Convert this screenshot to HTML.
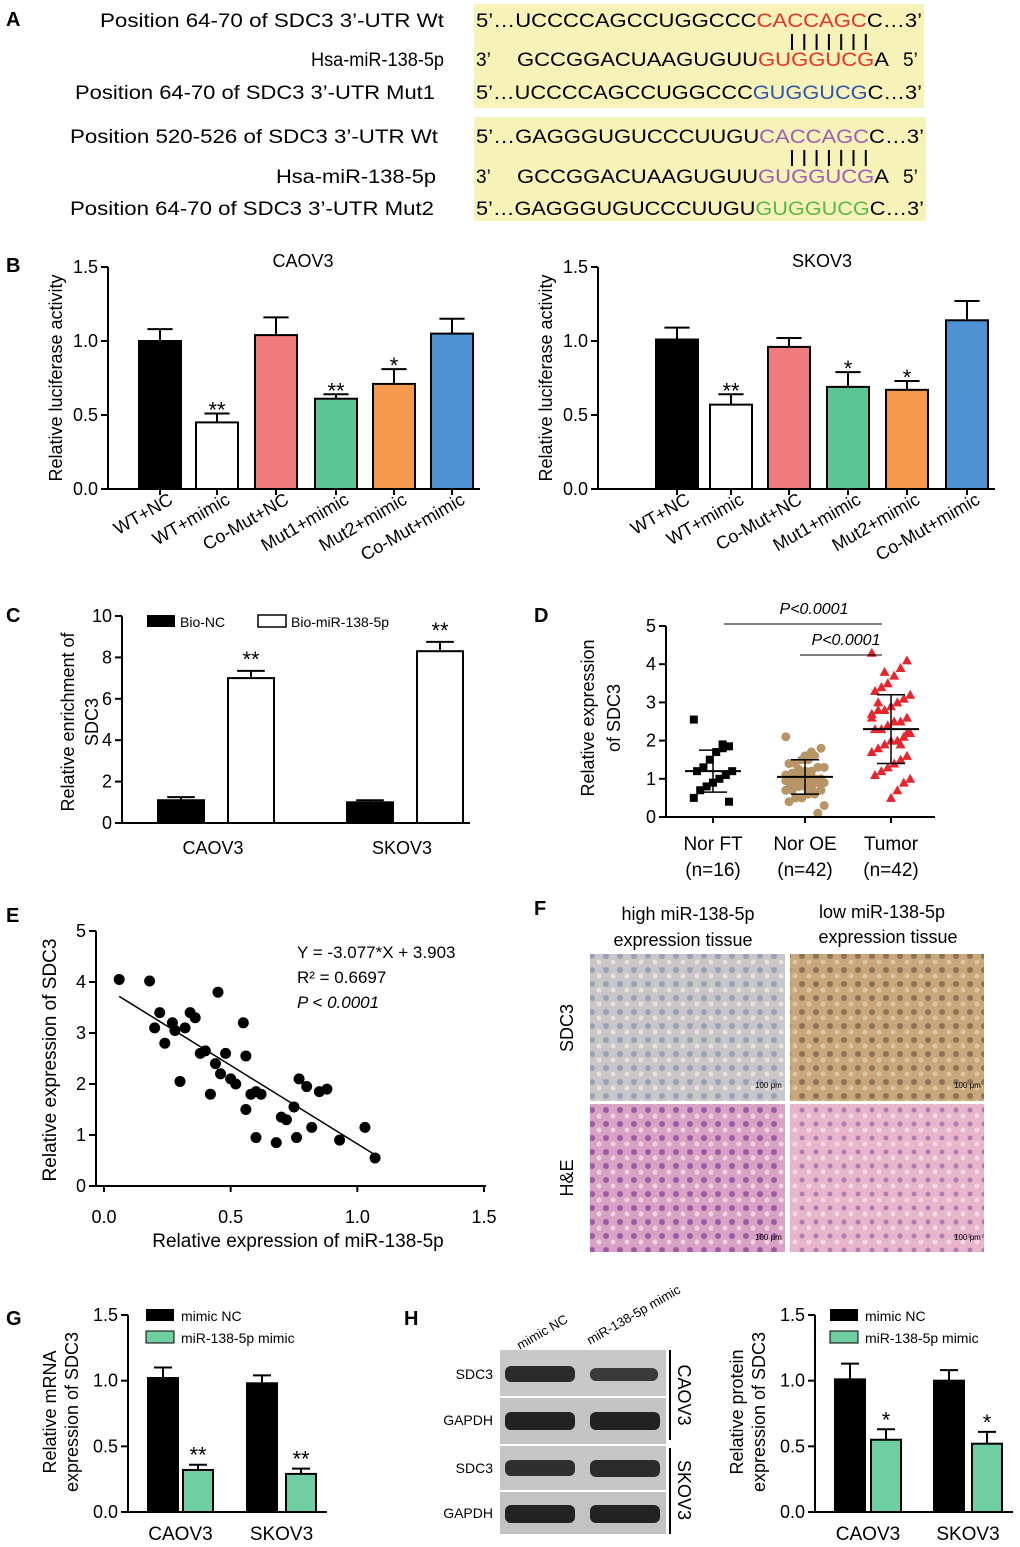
<!DOCTYPE html>
<html><head><meta charset="utf-8"><style>
body{margin:0;background:#fff;width:1020px;height:1547px;overflow:hidden;font-family:"Liberation Sans",Arial,sans-serif}
svg{position:absolute;left:0;top:0}
</style></head><body>
<svg id="fig" width="1020" height="1547" viewBox="0 0 1020 1547" font-family="Liberation Sans, Arial, sans-serif">
<defs>
<pattern id="ihcA" width="14" height="14" patternUnits="userSpaceOnUse"><rect width="14" height="14" fill="#c9c6c8"/><circle cx="4" cy="4" r="3" fill="#9aa0b8"/><circle cx="11" cy="10" r="2.5" fill="#e8e2dc"/></pattern>
<pattern id="ihcB" width="14" height="14" patternUnits="userSpaceOnUse"><rect width="14" height="14" fill="#c8a77a"/><circle cx="4" cy="4" r="3" fill="#8d7258"/><circle cx="11" cy="10" r="2.5" fill="#dcc7a4"/></pattern>
<pattern id="heA" width="14" height="14" patternUnits="userSpaceOnUse"><rect width="14" height="14" fill="#d9a1c4"/><circle cx="4" cy="4" r="3" fill="#9a5aa6"/><circle cx="11" cy="10" r="2.5" fill="#f0d3e3"/></pattern>
<pattern id="heB" width="14" height="14" patternUnits="userSpaceOnUse"><rect width="14" height="14" fill="#e7b6cb"/><circle cx="4" cy="4" r="2.5" fill="#b07ab3"/><circle cx="11" cy="10" r="2.5" fill="#f4d9e5"/></pattern>
</defs>
<g font-size="20" font-weight="bold">
<text x="6" y="26">A</text>
<text x="6" y="272">B</text>
<text x="6" y="622">C</text>
<text x="534" y="622">D</text>
<text x="6" y="922">E</text>
<text x="534" y="915">F</text>
<text x="6" y="1325">G</text>
<text x="404" y="1325">H</text>
</g>
<!-- Panel A -->
<g font-size="19">
<rect x="474" y="4" width="450" height="104" fill="#f7f2b7"/>
<rect x="474" y="117" width="452" height="104" fill="#f7f2b7"/>
<text x="100" y="27" textLength="344" lengthAdjust="spacingAndGlyphs">Position 64-70 of SDC3 3’-UTR  Wt</text>
<text x="311" y="66" textLength="133" lengthAdjust="spacingAndGlyphs">Hsa-miR-138-5p</text>
<text x="75" y="99" textLength="360" lengthAdjust="spacingAndGlyphs">Position 64-70 of SDC3 3’-UTR  Mut1</text>
<text x="70" y="143" textLength="368" lengthAdjust="spacingAndGlyphs">Position 520-526 of SDC3 3’-UTR  Wt</text>
<text x="276" y="183" textLength="160" lengthAdjust="spacingAndGlyphs">Hsa-miR-138-5p</text>
<text x="70" y="215" textLength="364" lengthAdjust="spacingAndGlyphs">Position 64-70 of SDC3 3’-UTR  Mut2</text>
<text x="476" y="27" textLength="446" lengthAdjust="spacingAndGlyphs">5’…UCCCCAGCCUGGCCC<tspan fill="#e8302c">CACCAGC</tspan>C…3’</text>
<text x="476" y="66">3’</text><text x="517" y="66" textLength="372" lengthAdjust="spacingAndGlyphs">GCCGGACUAAGUGUU<tspan fill="#e8302c">GUGGUCG</tspan>A</text><text x="903" y="66">5’</text>
<text x="476" y="99" textLength="446" lengthAdjust="spacingAndGlyphs">5’…UCCCCAGCCUGGCCC<tspan fill="#2f55b0">GUGGUCG</tspan>C…3’</text>
<text x="476" y="143" textLength="448" lengthAdjust="spacingAndGlyphs">5’…GAGGGUGUCCCUUGU<tspan fill="#a05cb0">CACCAGC</tspan>C…3’</text>
<text x="476" y="183">3’</text><text x="517" y="183" textLength="372" lengthAdjust="spacingAndGlyphs">GCCGGACUAAGUGUU<tspan fill="#a05cb0">GUGGUCG</tspan>A</text><text x="903" y="183">5’</text>
<text x="476" y="215" textLength="448" lengthAdjust="spacingAndGlyphs">5’…GAGGGUGUCCCUUGU<tspan fill="#5ab94a">GUGGUCG</tspan>C…3’</text>
<g id="pairs1"></g><g id="pairs2"></g>
</g>
<g id="charts"></g>
<!-- Panel F images -->
<g>
<text x="688" y="920" font-size="18" text-anchor="middle">high miR-138-5p</text>
<text x="683" y="946" font-size="18" text-anchor="middle">expression tissue</text>
<text x="882" y="918" font-size="18" text-anchor="middle">low miR-138-5p</text>
<text x="888" y="943" font-size="18" text-anchor="middle">expression tissue</text>
<text transform="translate(573,1028) rotate(-90)" font-size="18" text-anchor="middle">SDC3</text>
<text transform="translate(573,1178) rotate(-90)" font-size="18" text-anchor="middle">H&amp;E</text>
<rect x="590" y="954" width="195" height="147" fill="url(#ihcA)"/>
<rect x="790" y="954" width="194" height="147" fill="url(#ihcB)"/>
<rect x="590" y="1104" width="195" height="148" fill="url(#heA)"/>
<rect x="790" y="1104" width="194" height="148" fill="url(#heB)"/>
<g font-size="8"><text x="755" y="1088">100 μm</text><text x="954" y="1088">100 μm</text><text x="755" y="1240">100 μm</text><text x="954" y="1240">100 μm</text></g>
</g>
<!-- Panel H blots -->
<g>
<text transform="translate(520,1350) rotate(-30)" font-size="13">mimic NC</text>
<text transform="translate(590,1345) rotate(-30)" font-size="13">miR-138-5p mimic</text>
<rect x="500" y="1350" width="166" height="46" fill="#c8c8c8"/>
<rect x="500" y="1398" width="166" height="46" fill="#c4c4c4"/>
<rect x="500" y="1446" width="166" height="44" fill="#c6c6c6"/>
<rect x="500" y="1492" width="166" height="42" fill="#c2c2c2"/>
<rect x="505" y="1366" width="70" height="16" rx="6" fill="#2a2a2a"/><rect x="590" y="1368" width="68" height="13" rx="6" fill="#3a3a3a"/>
<rect x="505" y="1412" width="70" height="18" rx="6" fill="#222"/><rect x="590" y="1412" width="70" height="18" rx="6" fill="#222"/>
<rect x="505" y="1460" width="70" height="16" rx="6" fill="#2e2e2e"/><rect x="590" y="1460" width="70" height="17" rx="6" fill="#2a2a2a"/>
<rect x="505" y="1505" width="70" height="18" rx="6" fill="#222"/><rect x="590" y="1505" width="70" height="18" rx="6" fill="#222"/>
<g font-size="14" text-anchor="end"><text x="493" y="1379">SDC3</text><text x="493" y="1425">GAPDH</text><text x="493" y="1473">SDC3</text><text x="493" y="1518">GAPDH</text></g>
<line x1="670" y1="1350" x2="670" y2="1440" stroke="#000" stroke-width="2"/>
<line x1="670" y1="1448" x2="670" y2="1534" stroke="#000" stroke-width="2"/>
<text transform="translate(678,1395) rotate(90)" font-size="18" text-anchor="middle">CAOV3</text>
<text transform="translate(678,1490) rotate(90)" font-size="18" text-anchor="middle">SKOV3</text>
</g>
</svg>
<script>
const NS='http://www.w3.org/2000/svg';
// ---- data ----
const bCats=['WT+NC','WT+mimic','Co-Mut+NC','Mut1+mimic','Mut2+mimic','Co-Mut+mimic'];
const bCaovVals=[1.0,0.45,1.04,0.61,0.71,1.05];
const bCaovErr=[0.08,0.06,0.12,0.03,0.1,0.1];
const bCaovSig=['','**','','**','*',''];
const bSkovVals=[1.01,0.57,0.96,0.69,0.67,1.14];
const bSkovErr=[0.08,0.07,0.06,0.1,0.06,0.13];
const bSkovSig=['','**','','*','*',''];
const bTicks=['0.0','0.5','1.0','1.5'];
const cCats=['CAOV3','SKOV3'];
const cNC=[1.1,1.0];const cNCerr=[0.15,0.1];
const cMiR=[7.0,8.3];const cMiRerr=[0.35,0.45];
const cTicks=[0,2,4,6,8,10];
const dCats=['Nor FT','Nor OE','Tumor'];
const dN=['(n=16)','(n=42)','(n=42)'];
const dFT=[2.55,1.85,1.8,1.7,1.5,1.3,1.2,1.2,1.1,1.0,0.9,0.8,0.7,0.5,0.4,1.9];
const dOE=[2.1,1.8,1.6,1.5,1.5,1.4,1.4,1.3,1.3,1.2,1.2,1.1,1.1,1.1,1.0,1.0,1.0,1.0,0.9,0.9,0.9,0.9,0.8,0.8,0.8,0.7,0.7,0.7,0.6,0.6,0.5,0.5,0.4,0.3,0.1,1.7,1.6,1.25,1.15,0.95,0.85,0.65];
const dTu=[4.3,4.1,3.9,3.7,3.5,3.4,3.3,3.2,3.1,3.0,2.9,2.8,2.8,2.7,2.6,2.5,2.5,2.4,2.3,2.3,2.2,2.1,2.0,2.0,1.9,1.8,1.7,1.6,1.5,1.4,1.3,1.2,1.1,1.0,0.9,0.7,0.5,3.8,3.0,2.6,2.2,1.9];
const dMean=[1.2,1.05,2.3];const dSD=[0.55,0.45,0.9];
const dTicks=[0,1,2,3,4,5];
const eX=[0.06,0.18,0.2,0.22,0.24,0.27,0.28,0.3,0.32,0.34,0.36,0.38,0.4,0.42,0.44,0.45,0.46,0.48,0.5,0.52,0.55,0.56,0.56,0.6,0.6,0.62,0.68,0.72,0.75,0.76,0.77,0.8,0.82,0.85,0.88,0.93,1.03,1.07,0.58,0.7];
const eY=[4.05,4.02,3.1,3.4,2.8,3.2,3.05,2.05,3.1,3.4,3.3,2.6,2.65,1.8,2.4,3.8,2.2,2.6,2.1,2.0,3.2,1.5,2.55,0.95,1.85,1.8,0.85,1.3,1.55,0.95,2.1,1.95,1.15,1.85,1.9,0.9,1.15,0.55,1.8,1.35];
const eSlope=-3.077, eInt=3.903;
const eXT=['0.0','0.5','1.0','1.5'];const eYT=[0,1,2,3,4,5];
const gCats=['CAOV3','SKOV3'];
const gNC=[1.02,0.98];const gNCerr=[0.08,0.06];
const gMi=[0.32,0.29];const gMierr=[0.04,0.04];const gSig=['**','**'];
const hNC=[1.01,1.0];const hNCerr=[0.12,0.08];
const hMi=[0.55,0.52];const hMierr=[0.08,0.09];const hSig=['*','*'];
// ---- helpers ----
const root=document.getElementById('charts');
function el(tag,attrs,parent,txt){const e=document.createElementNS(NS,tag);for(const k in attrs)e.setAttribute(k,attrs[k]);if(txt!==undefined)e.textContent=txt;(parent||root).appendChild(e);return e;}
function group(name){const g=el('g',{});


return g;}
function yAxis(g,x,y0,y1,vals,max,fs,fmt){
 el('line',{x1:x,y1:y0,x2:x,y2:y1,stroke:'#000','stroke-width':2},g);
 vals.forEach(v=>{const n=parseFloat(v);const y=y0-(y0-y1)*n/max;
 el('line',{x1:x-7,y1:y,x2:x,y2:y,stroke:'#000','stroke-width':2},g);
 const t=el('text',{x:x-10,y:y+6,'font-size':fs,'text-anchor':'end'},g,fmt?fmt(v):v);
 
 });
}
function vtext(g,x,y,s,fs){el('text',{transform:`translate(${x},${y}) rotate(-90)`,'font-size':fs,'text-anchor':'middle'},g,s);}
function bar(g,cx,w,val,err,y0,scale,fill,name){
 const top=y0-val*scale,et=y0-(val+err)*scale;
 el('line',{x1:cx,y1:top,x2:cx,y2:et,stroke:'#000','stroke-width':2},g);
 el('line',{x1:cx-w*0.3,y1:et,x2:cx+w*0.3,y2:et,stroke:'#000','stroke-width':2},g);
 const r=el('rect',{x:cx-w/2,y:top,width:w,height:val*scale,fill:fill,stroke:'#000','stroke-width':2},g);
 
 
 return et;
}
// ---- Panel B ----
const bColors=['#000','#fff','#f07b7e','#5cc495','#f59a4d','#4f92d3'];
function panelB(name,ax,centers,vals,errs,sigs,title,tx){
 const g=group(name);const y0=489,y1=267,sc=(y0-y1)/1.5;
 el('text',{x:tx,y:267,'font-size':18,'text-anchor':'middle'},g,title);
 vals.forEach((v,i)=>{const et=bar(g,centers[i],42,v,errs[i],y0,sc,bColors[i],'bar-'+bCats[i]);
  if(sigs[i])el('text',{x:centers[i],y:et+12-8,'font-size':22,'text-anchor':'middle'},g,sigs[i]);
  el('text',{transform:`translate(${centers[i]+14},${503}) rotate(-30)`,'font-size':18,'text-anchor':'end'},g,bCats[i]);});
 el('line',{x1:ax,y1:y0,x2:centers[5]+28,y2:y0,stroke:'#000','stroke-width':2},g);
 centers.forEach(c=>el('line',{x1:c,y1:y0,x2:c,y2:y0+6,stroke:'#000','stroke-width':2},g));
 yAxis(g,ax,y0,y1,bTicks,1.5,18);
 vtext(g,ax-46,378,'Relative luciferase activity',18);
}
panelB('chart-b-caov3',108,[160,217,276,336,394,452],bCaovVals,bCaovErr,bCaovSig,'CAOV3',303);
panelB('chart-b-skov3',598,[677,731,789,848,907,967],bSkovVals,bSkovErr,bSkovSig,'SKOV3',822);
// ---- Panel C ----
(function(){const g=group('chart-c');const y0=823,y1=616,sc=(y0-y1)/10;
 const cx=[213,402];
 cx.forEach((c,i)=>{bar(g,c-32,46,cNC[i],cNCerr[i],y0,sc,'#000','bar-bio-nc-'+cCats[i]);
  const et=bar(g,c+38,46,cMiR[i],cMiRerr[i],y0,sc,'#fff','bar-bio-mir-'+cCats[i]);
  el('text',{x:c+38,y:et-4,'font-size':22,'text-anchor':'middle'},g,'**');
  el('text',{x:c,y:854,'font-size':18,'text-anchor':'middle'},g,cCats[i]);});
 el('line',{x1:122,y1:y0,x2:470,y2:y0,stroke:'#000','stroke-width':2},g);
 yAxis(g,122,y0,y1,cTicks.map(String),10,18);
 vtext(g,74,722,'Relative enrichment of',18);vtext(g,98,722,'SDC3',18);
 el('rect',{x:147,y:615,width:28,height:12,fill:'#000'},g);el('text',{x:180,y:627,'font-size':14},g,'Bio-NC');
 el('rect',{x:258,y:615,width:28,height:12,fill:'#fff',stroke:'#000','stroke-width':1.5},g);el('text',{x:291,y:627,'font-size':14},g,'Bio-miR-138-5p');
})();
// ---- Panel D ----
(function(){const g=group('chart-d');const y0=817,y1=626,sc=(y0-y1)/5;const cx=[713,805,891];
 const sets=[dFT,dOE,dTu];
 sets.forEach((s,i)=>{s.forEach((v,j)=>{const off=((j*37)%13-6)*3.2;const x=cx[i]+off,y=y0-v*sc;
  let p;
  if(i===0)p=el('rect',{x:x-4,y:y-4,width:8,height:8,fill:'#000'},g);
  else if(i===1)p=el('circle',{cx:x,cy:y,r:4.5,fill:'#b89566'},g);
  else p=el('path',{d:`M${x},${y-5}L${x+5},${y+4}L${x-5},${y+4}Z`,fill:'#e8242c'},g);
  
  });
  const m=y0-dMean[i]*sc,hi=y0-(dMean[i]+dSD[i])*sc,lo=y0-(dMean[i]-dSD[i])*sc;
  el('line',{x1:cx[i]-28,y1:m,x2:cx[i]+28,y2:m,stroke:'#000','stroke-width':2},g);
  el('line',{x1:cx[i],y1:hi,x2:cx[i],y2:lo,stroke:'#000','stroke-width':1.5},g);
  el('line',{x1:cx[i]-14,y1:hi,x2:cx[i]+14,y2:hi,stroke:'#000','stroke-width':1.5},g);
  el('line',{x1:cx[i]-14,y1:lo,x2:cx[i]+14,y2:lo,stroke:'#000','stroke-width':1.5},g);
  el('text',{x:cx[i],y:850,'font-size':19,'text-anchor':'middle'},g,dCats[i]);
  el('text',{x:cx[i],y:876,'font-size':19,'text-anchor':'middle'},g,dN[i]);});
 el('line',{x1:666,y1:y0,x2:935,y2:y0,stroke:'#000','stroke-width':2},g);
 cx.forEach(c=>el('line',{x1:c,y1:y0,x2:c,y2:y0+6,stroke:'#000','stroke-width':2},g));
 yAxis(g,666,y0,y1,dTicks.map(String),5,18);
 vtext(g,594,718,'Relative expression',18);vtext(g,620,718,'of SDC3',18);
 el('line',{x1:724,y1:624,x2:882,y2:624,stroke:'#000','stroke-width':1},g);
 el('line',{x1:800,y1:655,x2:882,y2:655,stroke:'#000','stroke-width':1},g);
 el('text',{x:814,y:614,'font-size':16,'font-style':'italic','text-anchor':'middle'},g,'P<0.0001');
 el('text',{x:846,y:645,'font-size':16,'font-style':'italic','text-anchor':'middle'},g,'P<0.0001');
})();
// ---- Panel E ----
(function(){const g=group('chart-e');const x0=104,sx=(484-104)/1.5,y0=1186,sy=(1186-931)/5;
 eX.forEach((v,i)=>{const c=el('circle',{cx:x0+v*sx,cy:y0-eY[i]*sy,r:5.5,fill:'#000'},g);
  
  });
 const xa=0.06,xb=1.07;
 el('line',{x1:x0+xa*sx,y1:y0-(eInt+eSlope*xa)*sy,x2:x0+xb*sx,y2:y0-(eInt+eSlope*xb)*sy,stroke:'#000','stroke-width':1.5},g);
 el('line',{x1:96,y1:y0,x2:486,y2:y0,stroke:'#000','stroke-width':2},g);
 eXT.forEach(t=>{const x=x0+parseFloat(t)*sx;el('line',{x1:x,y1:y0,x2:x,y2:y0+6,stroke:'#000','stroke-width':2},g);
  el('text',{x:x,y:1223,'font-size':18,'text-anchor':'middle'},g,t);});
 yAxis(g,96,y0,931,eYT.map(String),5,18);
 el('text',{x:298,y:1247,'font-size':19,'text-anchor':'middle'},g,'Relative expression of miR-138-5p');
 vtext(g,56,1060,'Relative expression of SDC3',19);
 el('text',{x:297,y:958,'font-size':17},g,'Y = -3.077*X + 3.903');
 el('text',{x:297,y:983,'font-size':17},g,'R² = 0.6697');
 el('text',{x:297,y:1008,'font-size':17,'font-style':'italic'},g,'P < 0.0001');
})();
// ---- Panel G / H bars ----
function grouped(name,ax,cent,nc,ncE,mi,miE,sig,y1,yl1,yl2,legX){
 const g=group(name);const y0=1512,sc=(y0-y1)/1.5;
 cent.forEach((c,i)=>{bar(g,c[0],30,nc[i],ncE[i],y0,sc,'#000','bar-mimic-nc-'+gCats[i]);
  const et=bar(g,c[1],30,mi[i],miE[i],y0,sc,'#6fcfa3','bar-mir-mimic-'+gCats[i]);
  el('text',{x:c[1],y:et-2,'font-size':22,'text-anchor':'middle'},g,sig[i]);
  el('text',{x:(c[0]+c[1])/2,y:1540,'font-size':19,'text-anchor':'middle'},g,gCats[i]);});
 el('line',{x1:ax,y1:y0,x2:cent[1][1]+26,y2:y0,stroke:'#000','stroke-width':2},g);
 yAxis(g,ax,y0,y1,bTicks,1.5,18);
 vtext(g,ax-72,1412,yl1,18);vtext(g,ax-50,1412,yl2,18);
 el('rect',{x:legX,y:1309,width:28,height:12,fill:'#000'},g);el('text',{x:legX+35,y:1321,'font-size':14},g,'mimic NC');
 el('rect',{x:legX,y:1331,width:28,height:12,fill:'#6fcfa3',stroke:'#000'},g);el('text',{x:legX+35,y:1343,'font-size':14},g,'miR-138-5p mimic');
}
grouped('chart-g',128,[[163,198],[262,301]],gNC,gNCerr,gMi,gMierr,gSig,1315,'Relative  mRNA','expression of SDC3',146);
grouped('chart-h',815,[[850,886],[949,987]],hNC,hNCerr,hMi,hMierr,hSig,1315,'Relative protein','expression of SDC3',830);
// pairing bars in A
[[46],[162]].forEach((p,k)=>{const g=document.getElementById(k?'pairs2':'pairs1');
 for(let i=0;i<7;i++){const x=792+i*12.3;el('line',{x1:x,y1:p[0]-12,x2:x,y2:p[0]+4,stroke:'#000','stroke-width':2},g);}});
</script>
</body></html>
